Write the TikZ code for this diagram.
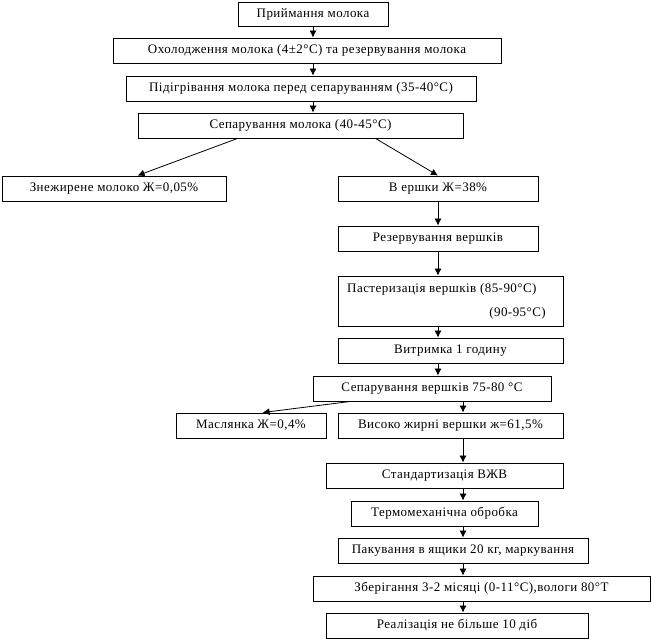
\documentclass[tikz,border=0pt]{standalone}
\usepackage{fontspec}
\setmainfont[LetterSpace=3.5]{Liberation Serif}
\usetikzlibrary{arrows.meta}
\begin{document}
\begin{tikzpicture}[x=1pt,y=-1pt,
  box/.style={draw=black, line width=0.9pt, rectangle, inner sep=0pt, font=\fontsize{13}{15}\selectfont},
  txt/.style={inner sep=0pt, font=\fontsize{13}{15}\selectfont},
  arr/.style={draw=black, line width=0.8pt, -{Latex[length=7pt,width=7pt]}}]
\useasboundingbox (0,0) rectangle (651,639);
\fill[white] (0,0) rectangle (651,639);
\coordinate (cA) at (313,0);
\coordinate (cB) at (438,0);
\coordinate (cC) at (463,0);

\node[box, minimum width=150pt, minimum height=24pt] (b1) at (313,14) {Приймання молока};
\node[box, minimum width=388pt, minimum height=25pt] (b2) at (307,50.5) {Охолодження молока (4±2°С) та резервування молока};
\node[box, minimum width=350pt, minimum height=25pt] (b3) at (301,88.5) {Підігрівання молока перед сепаруванням (35-40°С)};
\node[box, minimum width=325pt, minimum height=25pt] (b4) at (300.5,125.5) {Сепарування молока (40-45°С)};
\node[box, minimum width=224pt, minimum height=25pt] (b5) at (114,188.5) {Знежирене молоко Ж=0,05\%};
\node[box, minimum width=200pt, minimum height=25pt] (b6) at (438,188.5) {В ершки Ж=38\%};
\node[box, minimum width=200pt, minimum height=25pt] (b7) at (438,238.5) {Резервування вершків};
\node[box, minimum width=225pt, minimum height=50pt] (b8) at (450.5,301) {};
\node[txt, anchor=west] (t8a) at (347,289) {Пастеризація вершків (85-90°С)};
\node[txt, anchor=east] (t8b) at (546,313) {(90-95°С)};
\node[box, minimum width=225pt, minimum height=25pt] (b9) at (450.5,350.5) {Витримка 1 годину};
\node[box, minimum width=238pt, minimum height=25pt] (b10) at (432,388.5) {Сепарування вершків 75-80 °С};
\node[box, minimum width=150pt, minimum height=25pt] (b11) at (251,425.5) {Маслянка Ж=0,4\%};
\node[box, minimum width=225pt, minimum height=25pt] (b12) at (450.5,425.5) {Високо жирні вершки ж=61,5\%};
\node[box, minimum width=237pt, minimum height=25pt] (b13) at (444.5,475.5) {Стандартизація ВЖВ};
\node[box, minimum width=187pt, minimum height=25pt] (b14) at (444.5,513.5) {Термомеханічна обробка};
\node[box, minimum width=250pt, minimum height=25pt] (b15) at (463,550.5) {Пакування в ящики 20 кг, маркування};
\node[box, minimum width=337pt, minimum height=25pt] (b16) at (481.5,588.5) {Зберігання 3-2 місяці (0-11°С),вологи 80°Т};
\node[box, minimum width=262pt, minimum height=25pt] (b17) at (457,625.5) {Реалізація не більше 10 діб};

\draw[arr] (b1.south -| cA) -- (b2.north -| cA);
\draw[arr] (b2.south -| cA) -- (b3.north -| cA);
\draw[arr] (b3.south -| cA) -- (b4.north -| cA);
\draw[arr] ([xshift=100pt]b4.south west) -- ([xshift=136pt]b5.north west);
\draw[arr] ([xshift=238pt]b4.south west) -- (b6.north -| cB);
\draw[arr] (b6.south -| cB) -- (b7.north -| cB);
\draw[arr] (b7.south -| cB) -- (b8.north -| cB);
\draw[arr] (b8.south -| cB) -- (b9.north -| cB);
\draw[arr] (b9.south -| cB) -- (b10.north -| cB);
\draw[arr] ([xshift=38pt]b10.south west) -- ([xshift=87pt]b11.north west);
\draw[arr] (b10.south -| cC) -- (b12.north -| cC);
\draw[arr] (b12.south -| cC) -- (b13.north -| cC);
\draw[arr] (b13.south -| cC) -- (b14.north -| cC);
\draw[arr] (b14.south -| cC) -- (b15.north -| cC);
\draw[arr] (b15.south -| cC) -- (b16.north -| cC);
\draw[arr] (b16.south -| cC) -- (b17.north -| cC);
\end{tikzpicture}
\end{document}
